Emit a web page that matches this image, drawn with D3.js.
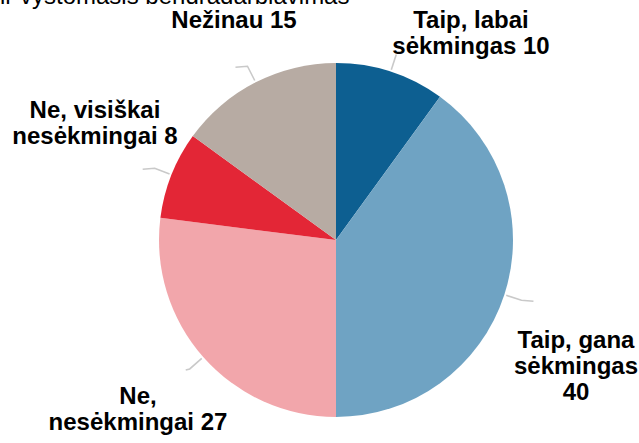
<!DOCTYPE html>
<html>
<head>
<meta charset="utf-8">
<script src="https://cdn.jsdelivr.net/npm/d3@7"></script>
<style>
    body { margin: 0; background: #fff; }
    svg { display: block; }
    .lbl { font-family: "Liberation Sans", Arial, sans-serif; font-weight: bold; font-size: 24px; fill: #000; }
    .ttl { font-family: "Liberation Sans", Arial, sans-serif; font-size: 24px; fill: #000; }
</style>
</head>
<body>
<div id="chart"></div>
<script>
// Chart data
const categories = ["Taip, labai sėkmingas", "Taip, gana sėkmingas", "Ne, nesėkmingai", "Ne, visiškai nesėkmingai", "Nežinau"];
const values = [10, 40, 27, 8, 15];
const colors = ["#0d5f91", "#6fa3c3", "#f2a6ab", "#e32636", "#b7aba3"];
// label text split into lines
const labelLines = [
    ["Taip, labai", "sėkmingas 10"],
    ["Taip, gana", "sėkmingas", "40"],
    ["Ne,", "nesėkmingai 27"],
    ["Ne, visiškai", "nesėkmingai 8"],
    ["Nežinau 15"]
];
const titleText = "ir vystomasis bendradarbiavimas";

// Layout
const width = 639, height = 443;
const cx = 336, cy = 240, radius = 177;
const labelPos = [[471, 28], [576, 348], [138, 404], [95, 118], [234, 28]];
const lineGap = 26;
const hookLen = [0, 12, -4, -12, -12]; // horizontal end of leader line

const svg = d3.select("#chart")
    .append("svg")
    .attr("width", width)
    .attr("height", height);

svg.append("text")
    .attr("class", "ttl")
    .attr("x", 0)
    .attr("y", 4)
    .text(titleText);

const pie = d3.pie().sort(null).value(d => d);
const arcs = pie(values);

const arc = d3.arc().innerRadius(0).outerRadius(radius);

const g = svg.append("g").attr("transform", `translate(${cx},${cy})`);

g.selectAll("path")
    .data(arcs)
    .join("path")
    .attr("d", arc)
    .attr("fill", (d, i) => colors[i]);

// Leader lines: radial stub then short horizontal hook
g.selectAll("path.leader")
    .data(arcs)
    .join("path")
    .attr("class", "leader")
    .attr("fill", "none")
    .attr("stroke", "#c9c9c9")
    .attr("stroke-width", 1.6)
    .attr("d", (d, i) => {
        const a = (d.startAngle + d.endAngle) / 2;
        const r0 = radius + 2, r1 = radius + 18;
        const x0 = Math.sin(a) * r0, y0 = -Math.cos(a) * r0;
        const x1 = Math.sin(a) * r1, y1 = -Math.cos(a) * r1;
        const x2 = x1 + hookLen[i];
        return `M${x0},${y0}L${x1},${y1}L${x2},${y1 + (hookLen[i] ? 1 : 0)}`;
    });

// Labels
const labels = svg.selectAll("text.lbl")
    .data(labelLines)
    .join("text")
    .attr("class", "lbl")
    .attr("text-anchor", "middle")
    .attr("x", (d, i) => labelPos[i][0])
    .attr("y", (d, i) => labelPos[i][1]);

labels.selectAll("tspan")
    .data((d, i) => d.map((t, j) => ({ t, j, i })))
    .join("tspan")
    .attr("x", d => labelPos[d.i][0])
    .attr("y", d => labelPos[d.i][1] + d.j * lineGap)
    .text(d => d.t);
</script>
</body>
</html>
